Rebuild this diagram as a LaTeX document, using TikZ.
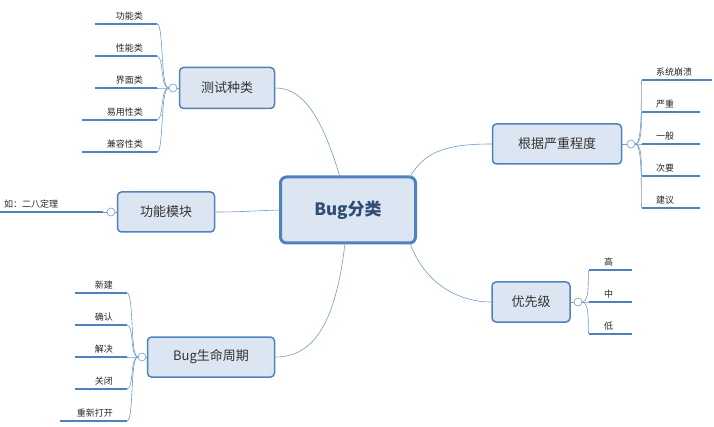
\documentclass[tikz,border=0pt]{standalone}
\usepackage{fontspec}
\setmainfont{Noto Sans CJK SC}
\begin{document}
\begin{tikzpicture}[x=1pt,y=-1pt,
  topic/.style={draw=blue!45!black!60!cyan!70, draw=mainblue, fill=boxfill, rounded corners=4pt, line width=1.5pt, text=txt, inner sep=0pt},
  leaftxt/.style={text=black!85, font=\fontsize{9}{10}\selectfont, inner sep=1pt},
  uline/.style={draw=mainblue, line width=2pt},
  conn/.style={draw=mainblue!80, line width=0.6pt},
  knob/.style={circle, draw=mainblue!80, fill=white, minimum size=8pt, inner sep=0pt, line width=0.6pt}]
\definecolor{mainblue}{HTML}{4F81BD}
\definecolor{boxfill}{HTML}{DCE6F2}
\definecolor{txt}{HTML}{333333}
\useasboundingbox (0,0) rectangle (714,427);
% central
\node[topic, line width=3pt, rounded corners=6pt, minimum width=135pt, minimum height=66pt, font=\bfseries\fontsize{17}{20}\selectfont, text=mainblue!60!black] (main) at (348,210) {Bug分类};
% subtopics
\node[topic, minimum width=95pt, minimum height=41pt, font=\fontsize{13}{15}\selectfont] (t1) at (227,88) {测试种类};
\node[topic, minimum width=97pt, minimum height=40pt, font=\fontsize{13}{15}\selectfont] (t2) at (166,212) {功能模块};
\node[topic, minimum width=127pt, minimum height=40pt, font=\fontsize{13}{15}\selectfont] (t3) at (211,357) {Bug生命周期};
\node[topic, minimum width=129pt, minimum height=40pt, font=\fontsize{13}{15}\selectfont] (t4) at (557,144) {根据严重程度};
\node[topic, minimum width=78pt, minimum height=40pt, font=\fontsize{13}{15}\selectfont] (t5) at (531,302) {优先级};
% main connectors
\draw[conn] (340,177) .. controls (320,110) and (300,88) .. (t1.east);
\draw[conn] (main.west) .. controls (250,211) and (240,212) .. (t2.east);
\draw[conn] (345,243) .. controls (335,330) and (310,357) .. (t3.east);
\draw[conn] (410,177) .. controls (425,150) and (450,144) .. (t4.west);
\draw[conn] (410,243) .. controls (425,285) and (460,302) .. (t5.west);
% knobs
\node[knob] (k1) at (173,88) {};
\node[knob] (k2) at (111,212) {};
\node[knob] (k3) at (142,357) {};
\node[knob] (k4) at (631,144) {};
\node[knob] (k5) at (578,302) {};
\draw[conn] (k1) -- (t1.west);
\draw[conn] (k2) -- (t2.west);
\draw[conn] (k3) -- (t3.west);
\draw[conn] (k4) -- (t4.east);
\draw[conn] (k5) -- (t5.east);
% left leaves: testing
\foreach \n/\t/\y/\xl in {a1/功能类/24/95, a2/性能类/56/95, a3/界面类/88/95, a4/易用性类/120/82, a5/兼容性类/152/82}{
  \coordinate (\n-r) at (157,\y);
  \draw[uline] (\xl,\y) -- (\n-r);
  \node[leaftxt, anchor=south east] (\n) at (144,\y-3) {\t};
  \draw[conn] (k1.west) .. controls (160,88) and (164,\y) .. (\n-r);
}
% functional module leaf
\coordinate (b1-r) at (103,212);
\draw[uline] (0,212) -- (b1-r);
\node[leaftxt, anchor=south west] (b1) at (3,209) {如：二八定理};
\draw[conn] (k2.west) -- (b1-r);
% lifecycle leaves
\foreach \n/\t/\y/\xl in {c1/新建/293/75, c2/确认/325/75, c3/解决/357/75, c4/关闭/389/75, c5/重新打开/421/60}{
  \coordinate (\n-r) at (127,\y);
  \draw[uline] (\xl,\y) -- (\n-r);
  \node[leaftxt, anchor=south east] (\n) at (114,\y-3) {\t};
  \draw[conn] (k3.west) .. controls (130,357) and (134,\y) .. (\n-r);
}
% severity leaves
\foreach \n/\t/\y/\xr in {d1/系统崩溃/80/712, d2/严重/112/700, d3/一般/144/700, d4/次要/176/700, d5/建议/208/700}{
  \coordinate (\n-l) at (642,\y);
  \draw[uline] (\n-l) -- (\xr,\y);
  \node[leaftxt, anchor=south west] (\n) at (655,\y-3) {\t};
  \draw[conn] (k4.east) .. controls (644,144) and (640,\y) .. (\n-l);
}
% priority leaves
\foreach \n/\t/\y in {e1/高/270, e2/中/302, e3/低/334}{
  \coordinate (\n-l) at (589,\y);
  \draw[uline] (\n-l) -- (632,\y);
  \node[leaftxt, anchor=south west] (\n) at (603,\y-3) {\t};
  \draw[conn] (k5.east) .. controls (591,302) and (587,\y) .. (\n-l);
}
\end{tikzpicture}
\end{document}
